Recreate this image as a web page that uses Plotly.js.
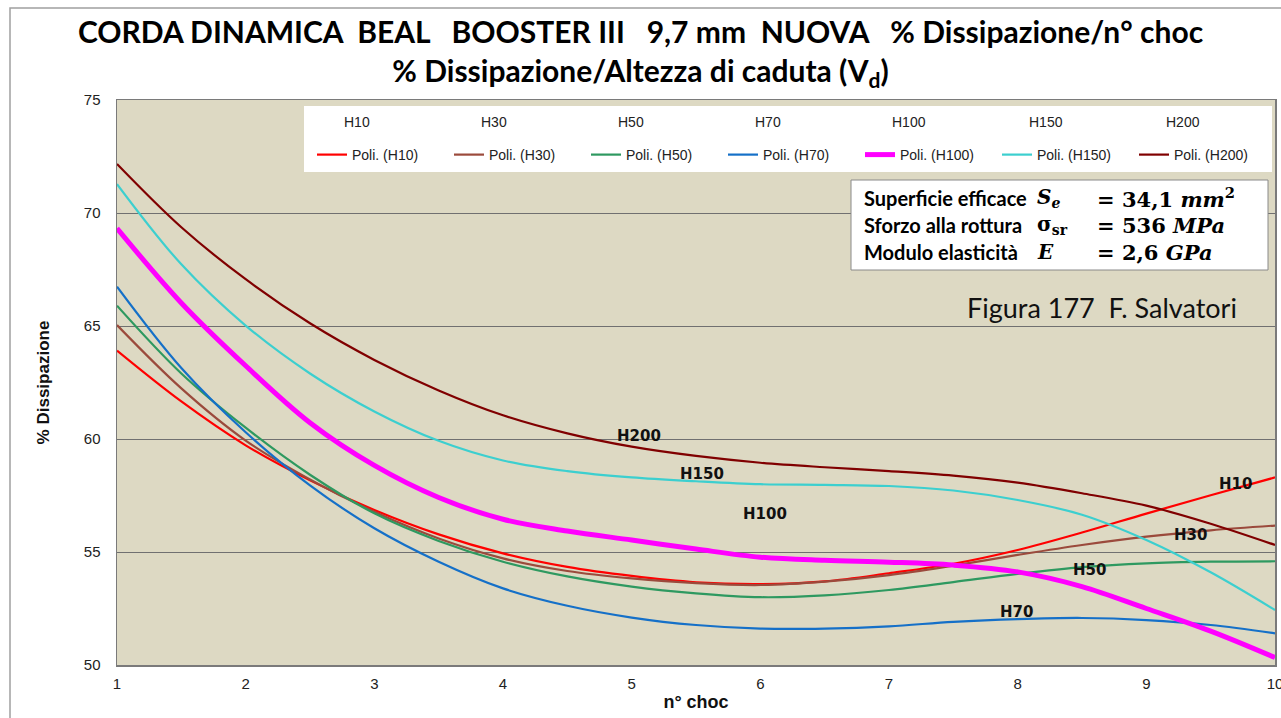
<!DOCTYPE html>
<html><head><meta charset="utf-8">
<script src="https://cdn.plot.ly/plotly-3.0.1.min.js"></script>
<style>html,body{margin:0;padding:0;background:#fff}#chart{width:1281px;height:718px}</style>
</head><body><div id="chart"></div>
<script>
// ---- data ----
const nChoc = [1, 1.5, 2, 2.5, 3, 3.5, 4, 4.5, 5, 5.5, 6, 6.5, 7, 7.5, 8, 8.5, 9, 9.5, 10];
const seriesNames = ['H10', 'H30', 'H50', 'H70', 'H100', 'H150', 'H200'];
const H10  = [63.91, 61.66, 59.72, 58.17, 56.86, 55.78, 54.94, 54.34, 53.94, 53.66, 53.58, 53.70, 54.06, 54.48, 55.09, 55.86, 56.70, 57.51, 58.30];
const H30  = [65.04, 62.24, 59.93, 58.21, 56.78, 55.60, 54.72, 54.16, 53.83, 53.62, 53.54, 53.69, 53.98, 54.40, 54.87, 55.31, 55.68, 55.96, 56.17];
const H50  = [65.90, 62.90, 60.50, 58.42, 56.71, 55.49, 54.57, 53.92, 53.47, 53.17, 53.00, 53.08, 53.32, 53.67, 54.03, 54.33, 54.50, 54.57, 54.59];
const H70  = [66.74, 63.14, 60.30, 57.95, 56.05, 54.57, 53.39, 52.62, 52.10, 51.77, 51.61, 51.61, 51.71, 51.91, 52.03, 52.08, 51.99, 51.77, 51.40];
const H100 = [69.32, 66.02, 63.24, 60.72, 58.83, 57.41, 56.45, 55.93, 55.53, 55.13, 54.77, 54.63, 54.55, 54.42, 54.12, 53.47, 52.50, 51.50, 50.33];
const H150 = [71.28, 67.73, 65.02, 62.90, 61.22, 59.92, 59.05, 58.58, 58.30, 58.13, 58.00, 57.97, 57.92, 57.72, 57.30, 56.65, 55.53, 54.10, 52.43];
const H200 = [72.17, 69.37, 67.07, 65.12, 63.50, 62.15, 61.05, 60.25, 59.66, 59.25, 58.95, 58.75, 58.58, 58.38, 58.07, 57.60, 57.05, 56.25, 55.31];
const seriesValues = [H10, H30, H50, H70, H100, H150, H200];
const trendPrefix = 'Poli. (';
const yTicks = [50, 55, 60, 65, 70, 75];
const xTicks = [1, 2, 3, 4, 5, 6, 7, 8, 9, 10];
const infoLabels = ['Superficie efficace', 'Sforzo alla rottura', 'Modulo elasticità'];
const infoSymbols = ['<i>S<sub>e</sub></i>', 'σ<sub>sr</sub>', '<i>E</i>'];
const infoValues = ['= 34,1 <i>mm</i><sup>2</sup>', '= 536 <i>MPa</i>', '= 2,6 <i>GPa</i>'];

// ---- styles ----
const colors = ['#FF0000', '#9B4A3C', '#2E9960', '#1570C8', '#FF00FF', '#3CCFCF', '#800000'];
const widths = [2.2, 2.2, 2.2, 2.2, 5, 2.2, 2.2];
const labelPos = [[9.69, 58.0], [9.34, 55.75], [8.56, 54.2], [7.99, 52.35], [6.04, 56.68], [5.55, 58.45], [5.06, 60.13]];

const traces = [];
seriesNames.forEach((n, i) => {
  traces.push({x: nChoc, y: seriesValues[i], name: n, mode: 'lines', legend: 'legend',
    line: {width: 0, color: 'rgba(0,0,0,0)'}, hoverinfo: 'skip'});
});
seriesNames.forEach((n, i) => {
  traces.push({x: nChoc, y: seriesValues[i], name: trendPrefix + n + ')', mode: 'lines', legend: 'legend2',
    line: {shape: 'spline', smoothing: 1, color: colors[i], width: widths[i]}});
});

const px2x = p => (p - 117) / 1158;
const py2y = p => (665 - p) / 565;

const annotations = [];
seriesNames.forEach((n, i) => {
  annotations.push({x: labelPos[i][0], y: labelPos[i][1], xref: 'x', yref: 'y', text: n, showarrow: false,
    font: {family: 'DejaVu Sans', size: 15, color: '#111', weight: 'bold'}});
});
const rowY = [198, 225, 252];
infoLabels.forEach((t, i) => {
  annotations.push({x: px2x(862), y: py2y(rowY[i]), xref: 'paper', yref: 'paper', xanchor: 'left', yanchor: 'middle',
    text: t, showarrow: false, font: {family: 'Lato', size: 20, color: '#000', weight: 'bold'}});
  annotations.push({x: px2x(1035), y: py2y(rowY[i]), xref: 'paper', yref: 'paper', xanchor: 'left', yanchor: 'middle',
    text: infoSymbols[i], showarrow: false, font: {family: 'DejaVu Serif', size: 20, color: '#000', weight: 'bold'}});
  annotations.push({x: px2x(1095), y: py2y(rowY[i]), xref: 'paper', yref: 'paper', xanchor: 'left', yanchor: 'middle',
    text: infoValues[i], showarrow: false, font: {family: 'DejaVu Serif', size: 21, color: '#000', weight: 'bold'}});
});
annotations.push({x: px2x(1102), y: py2y(307), xref: 'paper', yref: 'paper', xanchor: 'center', yanchor: 'middle',
  text: 'Figura 177\u00a0\u00a0F. Salvatori', showarrow: false, font: {family: 'Lato', size: 27, color: '#111'}});

const layout = {
  width: 1281, height: 718,
  margin: {l: 117, r: 6, t: 100, b: 53, pad: 0},
  paper_bgcolor: '#FFFFFF', plot_bgcolor: '#DDD9C3',
  title: {text: 'CORDA DINAMICA\u00a0\u00a0BEAL\u00a0\u00a0\u00a0BOOSTER III\u00a0\u00a0\u00a09,7 mm\u00a0\u00a0NUOVA\u00a0\u00a0\u00a0% Dissipazione/n° choc<br>% Dissipazione/Altezza di caduta (V<sub>d</sub>)',
    x: 0.5, xref: 'container', xanchor: 'center', y: 0.94, yref: 'container', yanchor: 'top',
    font: {family: 'Lato', size: 30, color: '#000', weight: 'bold'}},
  xaxis: {range: [1, 10], tickvals: xTicks, showgrid: false, zeroline: false, showline: true, mirror: true,
    linecolor: '#7A7A7A', linewidth: 1.5, ticks: '', ticklabelstandoff: 4, ticklabeloverflow: 'allow',
    tickfont: {family: 'Liberation Sans', size: 15, color: '#222'},
    title: {text: 'n° choc', standoff: 5, font: {family: 'Liberation Sans', size: 18, color: '#111', weight: 'bold'}}},
  yaxis: {range: [50, 75], tickvals: yTicks, showgrid: true, gridcolor: '#707070', gridwidth: 1, zeroline: false,
    showline: true, mirror: true, linecolor: '#7A7A7A', linewidth: 1.5, ticks: '', ticklabelstandoff: 12,
    tickfont: {family: 'Liberation Sans', size: 15, color: '#222'},
    title: {text: '% Dissipazione', standoff: 30, font: {family: 'Liberation Sans', size: 17, color: '#111', weight: 'bold'}}},
  showlegend: true,
  legend: {x: px2x(304), y: py2y(106), xanchor: 'left', yanchor: 'top', orientation: 'h', bgcolor: '#FFFFFF',
    borderwidth: 0, entrywidth: 92, font: {family: 'Liberation Sans', size: 14, color: '#222'}, itemclick: false, itemdoubleclick: false},
  legend2: {x: px2x(312), y: py2y(139), xanchor: 'left', yanchor: 'top', orientation: 'h', bgcolor: '#FFFFFF',
    borderwidth: 0, entrywidth: 92, font: {family: 'Liberation Sans', size: 14, color: '#222'}, itemclick: false, itemdoubleclick: false},
  shapes: [
    {type: 'rect', xref: 'paper', yref: 'paper', x0: px2x(304), x1: px2x(1272), y0: py2y(172), y1: py2y(106),
      fillcolor: '#FFFFFF', line: {width: 0}, layer: 'below'},
    {type: 'rect', xref: 'paper', yref: 'paper', x0: px2x(851), x1: px2x(1268), y0: py2y(270), y1: py2y(180),
      fillcolor: '#FFFFFF', line: {color: '#8A8A8A', width: 1}, layer: 'above'},
    {type: 'rect', xref: 'paper', yref: 'paper', x0: px2x(10), x1: 1.2, y0: -0.3, y1: py2y(8),
      fillcolor: 'rgba(0,0,0,0)', line: {color: '#A0A0A0', width: 1.5}, layer: 'below'}
  ],
  annotations: annotations
};

Plotly.newPlot('chart', traces, layout, {staticPlot: true, displayModeBar: false});
</script>
</body></html>
